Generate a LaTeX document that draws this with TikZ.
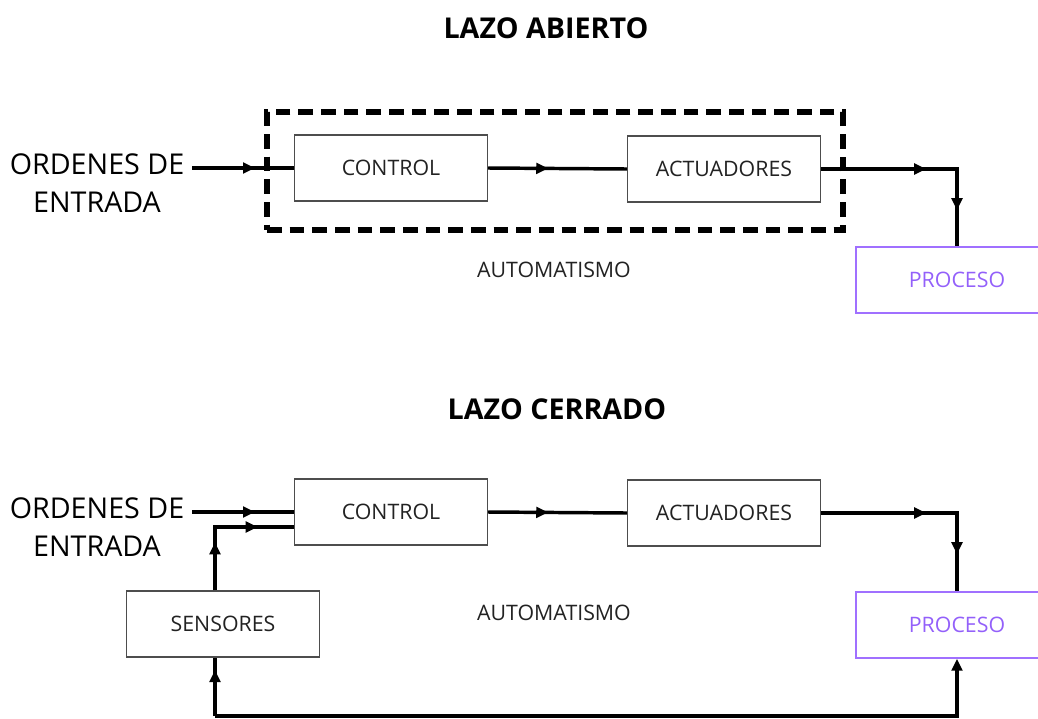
\documentclass[tikz,border=0pt]{standalone}
\usepackage{fontspec}
\setmainfont{Open Sans}
\usetikzlibrary{positioning,arrows.meta,decorations.markings}
\definecolor{ink}{HTML}{000000}
\definecolor{boxgrey}{HTML}{4D4D4D}
\definecolor{boxtext}{HTML}{222222}
\definecolor{procline}{HTML}{A070FF}
\definecolor{proctext}{HTML}{9360FA}
\tikzset{
  blk/.style={draw=boxgrey,text=boxtext,line width=1.1pt,minimum width=144.75pt,minimum height=49.5pt,inner sep=0,font=\fontsize{16}{18}\selectfont},
  prc/.style={blk,draw=procline,text=proctext,minimum width=151.5pt},
  flow/.style={draw=ink,line width=2.6pt},
  arrat/.style={postaction={decorate,decoration={markings,mark=at position #1 with {\arrow{Triangle[length=9pt,width=8pt]}}}}},
  lbl/.style={font=\fontsize{21.5}{29}\selectfont,align=center},
  ttl/.style={font=\fontsize{21.5}{24}\selectfont\bfseries},
  note/.style={text=boxtext,font=\fontsize{16}{18}\selectfont}
}
\begin{document}
\begin{tikzpicture}[x=0.75pt,y=-0.75pt]
  \useasboundingbox (0,0) rectangle (1038,718);
  % lazo abierto
  \node[ttl] (t1) at (546,28) {LAZO ABIERTO};
  \node[lbl] (in1) at (97,183) {ORDENES DE\\ENTRADA};
  \node[blk] (ctl1) at (391,168) {CONTROL};
  \node[blk] (act1) at (724,169) {ACTUADORES};
  \node[prc] (pro1) at (957,280) {PROCESO};
  \node[draw=ink,line width=4pt,dash pattern=on 11pt off 6pt,minimum width=432pt,minimum height=88.5pt,inner sep=0] (aut1) at (555,171) {};
  \node[note] (n1) at (554,270) {AUTOMATISMO};
  \coordinate (s1) at (192,168);
  \draw[flow,arrat=47.25pt] (s1) -- (ctl1.west);
  \draw[flow,arrat=45pt] (ctl1.east) -- (act1.west);
  \draw[flow,arrat=78.75pt,arrat=132.75pt] (act1.east) -| (pro1.north);
  % lazo cerrado
  \node[ttl] (t2) at (557,409) {LAZO CERRADO};
  \node[lbl] (in2) at (97,527) {ORDENES DE\\ENTRADA};
  \node[blk] (ctl2) at (391,512) {CONTROL};
  \node[blk] (act2) at (724,513) {ACTUADORES};
  \node[prc] (pro2) at (957,625) {PROCESO};
  \node[blk] (sen) at (223,624) {SENSORES};
  \node[note] (n2) at (554,613) {AUTOMATISMO};
  \coordinate (s2) at (192,512);
  \coordinate (loopL) at (215,716);
  \coordinate (loopR) at (957,716);
  \draw[flow,arrat=47.25pt] (s2) -- (ctl2.west);
  \draw[flow,arrat=36pt,arrat=79.5pt] (sen.north -| loopL) |- ([yshift=-11.25pt]ctl2.west);
  \draw[flow,arrat=45pt] (ctl2.east) -- (act2.west);
  \draw[flow,arrat=78.75pt,arrat=132.75pt] (act2.east) -| (pro2.north);
  \draw[flow,arrat=34.5pt] (loopL) -- (sen.south -| loopL);
  \draw[flow,-{Triangle[length=9pt,width=8pt]}] (loopL) -- (loopR) -- (pro2.south);
\end{tikzpicture}
\end{document}
